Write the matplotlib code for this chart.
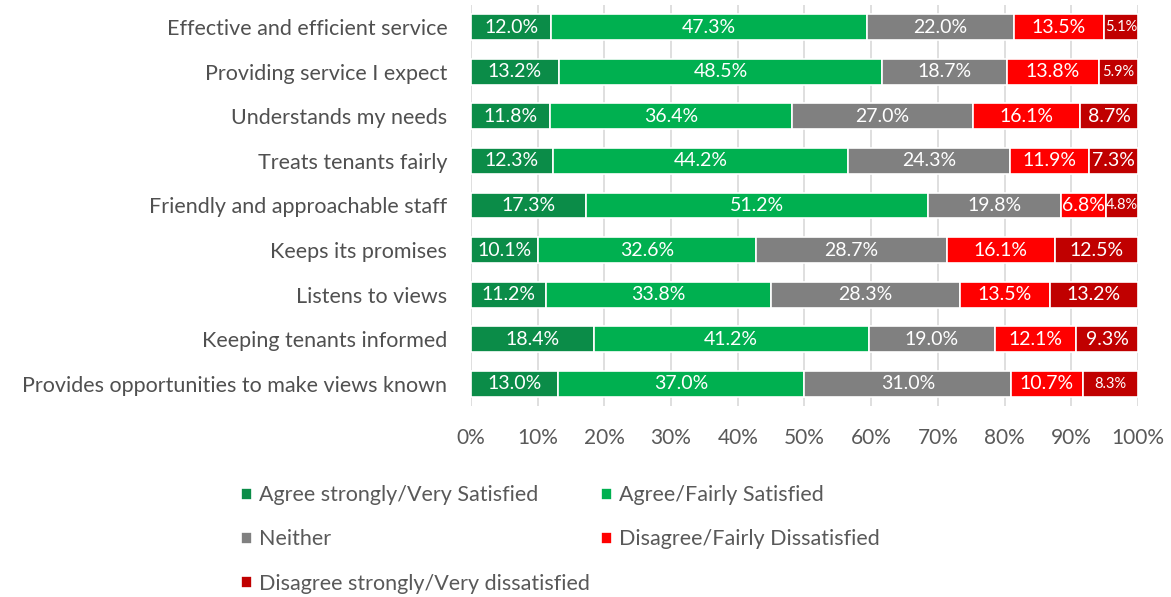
import matplotlib
matplotlib.use("Agg")
import matplotlib.pyplot as plt
import numpy as np

categories = [
    "Effective and efficient service",
    "Providing service I expect",
    "Understands my needs",
    "Treats tenants fairly",
    "Friendly and approachable staff",
    "Keeps its promises",
    "Listens to views",
    "Keeping tenants informed",
    "Provides opportunities to make views known",
]
series_names = [
    "Agree strongly/Very Satisfied",
    "Agree/Fairly Satisfied",
    "Neither",
    "Disagree/Fairly Dissatisfied",
    "Disagree strongly/Very dissatisfied",
]
agree_strongly = [12.0, 13.2, 11.8, 12.3, 17.3, 10.1, 11.2, 18.4, 13.0]
agree = [47.3, 48.5, 36.4, 44.2, 51.2, 32.6, 33.8, 41.2, 37.0]
neither = [22.0, 18.7, 27.0, 24.3, 19.8, 28.7, 28.3, 19.0, 31.0]
disagree = [13.5, 13.8, 16.1, 11.9, 6.8, 16.1, 13.5, 12.1, 10.7]
disagree_strongly = [5.1, 5.9, 8.7, 7.3, 4.8, 12.5, 13.2, 9.3, 8.3]
tick_labels = ["0%", "10%", "20%", "30%", "40%", "50%", "60%", "70%", "80%", "90%", "100%"]

colors = ["#0B8C48", "#00B050", "#808080", "#FF0000", "#C00000"]
font = "Lato"

data = np.array([agree_strongly, agree, neither, disagree, disagree_strongly])
norm = data / data.sum(axis=0) * 100

fig = plt.figure(figsize=(11.71, 5.97), dpi=100)
ax = fig.add_axes([0.4022, 0.3200, 0.5696, 0.6716])

y = np.arange(len(categories))
left = np.zeros(len(categories))
handles = []
for i, (name, col) in enumerate(zip(series_names, colors)):
    bars = ax.barh(y, norm[i], left=left, height=0.58, color=col,
                   edgecolor="white", linewidth=1.2, label=name, zorder=3)
    handles.append(bars)
    for j in range(len(categories)):
        v = data[i, j]
        small = (i == 4 and (v < 6 or j == 8))
        ax.text(left[j] + norm[i, j] / 2, y[j], f"{v:.1f}%",
                ha="center", va="center", color="white",
                fontsize=10.5 if small else 14, family=font, zorder=4)
    left += norm[i]

ax.set_xlim(0, 100)
ax.set_ylim(len(categories) - 0.5, -0.5)
ax.set_xticks(np.arange(0, 101, 10))
ax.set_xticklabels(tick_labels, family=font, fontsize=15, color="#595959")
ax.set_yticks(y)
ax.set_yticklabels(categories, family=font, fontsize=15.5, color="#505050")
ax.tick_params(axis="y", length=0, pad=17)
ax.tick_params(axis="x", length=0, pad=16)
ax.grid(axis="x", color="#D9D9D9", linewidth=1.2, zorder=0)
for s in ax.spines.values():
    s.set_visible(False)

order = [0, 2, 4, 1, 3]
leg = fig.legend(handles=[handles[k] for k in order],
                 labels=[series_names[k] for k in order], loc="upper left",
                 bbox_to_anchor=(0.197, 0.205), ncol=2, frameon=False,
                 prop={"family": font, "size": 15.5}, handlelength=0.5,
                 handleheight=0.5, handletextpad=0.3, columnspacing=0.55,
                 labelspacing=1.12, labelcolor="#595959",
                 borderpad=0.0)

fig.savefig("out.png", dpi=100)
